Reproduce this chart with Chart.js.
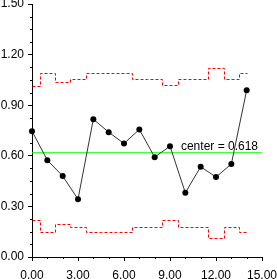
<!DOCTYPE html>
<html>
<head>
<meta charset="utf-8">
<script src="https://cdn.jsdelivr.net/npm/chart.js@4/dist/chart.umd.min.js"></script>
<style>
html,body{margin:0;padding:0;background:#fff;}
canvas{display:block;}
</style>
</head>
<body>
<canvas id="c" width="277" height="279"></canvas>
<script>
// Sample index (x) and observed proportions
const samples = [0,1,2,3,4,5,6,7,8,9,10,11,12,13,14];
const values  = [0.746,0.574,0.480,0.343,0.817,0.740,0.673,0.756,0.592,0.657,0.381,0.535,0.474,0.551,0.989];
// Control limits per sample
const ucl = [1.015,1.088,1.040,1.056,1.088,1.088,1.088,1.056,1.056,1.017,1.056,1.056,1.121,1.056,1.088];
const lcl = [0.221,0.148,0.196,0.180,0.148,0.148,0.148,0.180,0.180,0.219,0.180,0.180,0.115,0.180,0.148];
const center = 0.618;
const centerLabel = 'center = 0.618';
const xTicks = [0,3,6,9,12,15];
const yTicks = [0,0.3,0.6,0.9,1.2,1.5];

const FONT = {family:'"Liberation Sans", Arial, sans-serif', size:12};

const pts = (ys) => samples.map((x,i)=>({x:x,y:ys[i]}));

// Draw stepped limit lines crisply, using the element positions computed by Chart.js
const crispSteps = {
  id:'crispSteps',
  beforeDatasetDraw(chart, args){
    const ds = chart.data.datasets[args.index];
    if (!ds.crisp) return;
    const pts = args.meta.data;
    const ctx = chart.ctx;
    const s = v => Math.round(v) + 0.5;
    ctx.save();
    ctx.strokeStyle = ds.borderColor;
    ctx.lineWidth = 1;
    ctx.setLineDash(ds.borderDash);
    ctx.beginPath();
    ctx.moveTo(s(pts[0].x), s(pts[0].y));
    for (let i=1;i<pts.length;i++){
      const mx = s((pts[i-1].x + pts[i].x)/2);
      ctx.lineTo(mx, s(pts[i-1].y));
      ctx.lineTo(mx, s(pts[i].y));
    }
    ctx.lineTo(s(pts[pts.length-1].x), s(pts[pts.length-1].y));
    ctx.stroke();
    ctx.restore();
    return false;
  }
};

const minorTicks = {
  id:'minorTicks',
  afterDraw(chart){
    const ctx = chart.ctx, xs = chart.scales.x, ys = chart.scales.y;
    ctx.save();
    ctx.strokeStyle = '#000';
    ctx.lineWidth = 1;
    ctx.beginPath();
    for (let i=0;i<=20;i++){
      if (i%4===0) continue;
      const py = Math.round(ys.getPixelForValue(i*0.075))+0.5;
      ctx.moveTo(xs.left-2, py); ctx.lineTo(xs.left, py);
    }
    for (let i=0;i<=15;i++){
      if (i%3===0) continue;
      const px = Math.round(xs.getPixelForValue(i))+0.5;
      ctx.moveTo(px, ys.bottom); ctx.lineTo(px, ys.bottom+2);
    }
    ctx.stroke();
    // center label
    ctx.fillStyle = '#000';
    ctx.font = FONT.size+'px '+FONT.family;
    ctx.textAlign = 'right';
    ctx.textBaseline = 'alphabetic';
    ctx.fillText(centerLabel, xs.getPixelForValue(15)-4, ys.getPixelForValue(center)-3);
    ctx.restore();
  }
};

new Chart(document.getElementById('c'), {
  type:'scatter',
  data:{
    datasets:[
      {data:pts(ucl), crisp:true, showLine:true, stepped:'middle', borderColor:'#ff0000', borderWidth:1, borderDash:[3,2], pointRadius:0, fill:false, order:3},
      {data:pts(lcl), crisp:true, showLine:true, stepped:'middle', borderColor:'#ff0000', borderWidth:1, borderDash:[3,2], pointRadius:0, fill:false, order:3},
      {data:[{x:0,y:center},{x:15,y:center}], showLine:true, borderColor:'#00ff00', borderWidth:1, pointRadius:0, order:2},
      {data:pts(values), showLine:true, borderColor:'#333333', borderWidth:1, pointRadius:3, pointBackgroundColor:'#000', pointBorderWidth:0, pointHoverRadius:3, clip:false, order:1}
    ]
  },
  options:{
    responsive:false,
    devicePixelRatio:1,
    animation:false,
    events:[],
    layout:{padding:{top:4, right:15, bottom:0, left:0}},
    plugins:{legend:{display:false}, tooltip:{enabled:false}},
    scales:{
      x:{
        type:'linear', min:0, max:15,
        afterBuildTicks(s){ s.ticks = xTicks.map(v=>({value:v})); },
        afterFit(s){ s.height = 22; s.paddingLeft = 0; s.paddingRight = 0; },
        ticks:{callback:v=>Number(v).toFixed(2), color:'#000', font:FONT, padding:7, maxRotation:0, autoSkip:false},
        grid:{display:true, drawOnChartArea:false, drawTicks:true, tickLength:4, color:'#000'},
        border:{display:true, color:'#000', width:1}
      },
      y:{
        type:'linear', min:0, max:1.5,
        afterBuildTicks(s){ s.ticks = yTicks.map(v=>({value:v})); },
        afterFit(s){ s.width = 32; s.paddingTop = 0; s.paddingBottom = 0; },
        ticks:{callback:v=>Number(v).toFixed(2), color:'#000', font:FONT, padding:4, autoSkip:false},
        grid:{display:true, drawOnChartArea:false, drawTicks:true, tickLength:4, color:'#000'},
        border:{display:true, color:'#000', width:1}
      }
    }
  },
  plugins:[minorTicks, crispSteps]
});
</script>
</body>
</html>
